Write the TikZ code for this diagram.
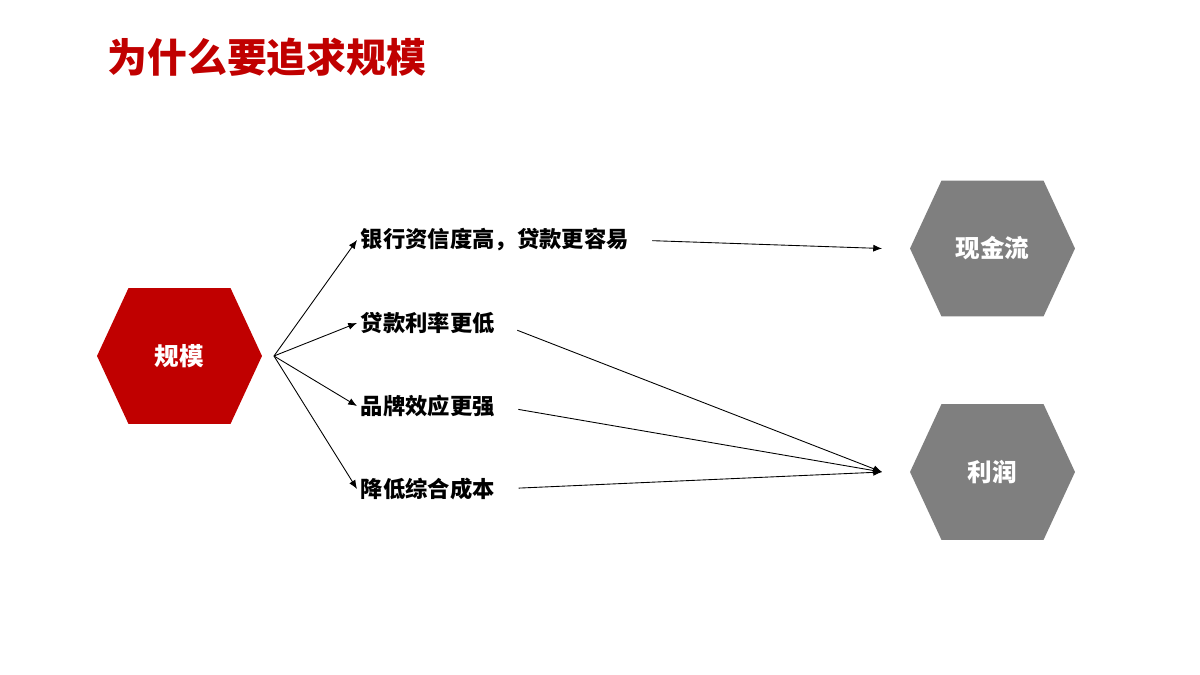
\documentclass[tikz,border=0pt]{standalone}
\usepackage{fontspec}
\setmainfont{Noto Sans CJK SC}
\usepackage{xcolor}
\usepackage{tikz}
\usetikzlibrary{positioning,calc,arrows.meta}
\definecolor{scalered}{HTML}{C00000}
\definecolor{hexgray}{HTML}{7F7F7F}
\tikzset{
    hexa/.style={minimum width=3.3cm, minimum height=2.72cm, inner sep=0pt, outer sep=0pt,
        text=white, font=\bfseries\fontsize{14}{16}\selectfont,
        path picture={\fill[#1] (path picture bounding box.west)
            -- ([xshift=0.63cm]path picture bounding box.north west)
            -- ([xshift=-0.63cm]path picture bounding box.north east)
            -- (path picture bounding box.east)
            -- ([xshift=-0.63cm]path picture bounding box.south east)
            -- ([xshift=0.63cm]path picture bounding box.south west) -- cycle;}},
    reason/.style={anchor=west, inner sep=2pt, font=\bfseries\fontsize{12.7}{15}\selectfont},
    link/.style={line width=0.5pt, -{Latex[length=5pt,width=4pt]}}
}
\begin{document}
\begin{tikzpicture}[x=0.02cm,y=-0.02cm]
    \useasboundingbox (0,0) rectangle (1200,675);
    \node[anchor=west, inner sep=0pt, text=scalered, font=\bfseries\fontsize{22.7}{26}\selectfont] (title) at (107,57) {为什么要追求规模};
    % Hexagons
    \node[hexa=scalered] (scale) at (179.5,356) {规模};
    \node[hexa=hexgray] (cash) at (992.5,248.5) {现金流};
    \node[hexa=hexgray] (profit) at (992.5,472) {利润};
    \coordinate (fan) at ([xshift=0.24cm]scale.east);
    \coordinate (cashin) at ([xshift=-0.56cm]cash.west);
    \coordinate (profitin) at ([xshift=-0.56cm]profit.west);
    % Reasons
    \foreach \y/\n/\t in {240/credit/银行资信度高，贷款更容易, 323/rate/贷款利率更低, 406/brand/品牌效应更强, 489/cost/降低综合成本} {
        \node[reason] (\n) at (357,\y) {\t};
        \draw[link] (fan) -- (\n.west);
    }
    \draw[link, shorten <=0.4cm] (credit.east) -- (cashin);
    \foreach \n in {rate, brand, cost}
        \draw[link, shorten <=0.4cm] (\n.east) -- (profitin);
\end{tikzpicture}
\end{document}
